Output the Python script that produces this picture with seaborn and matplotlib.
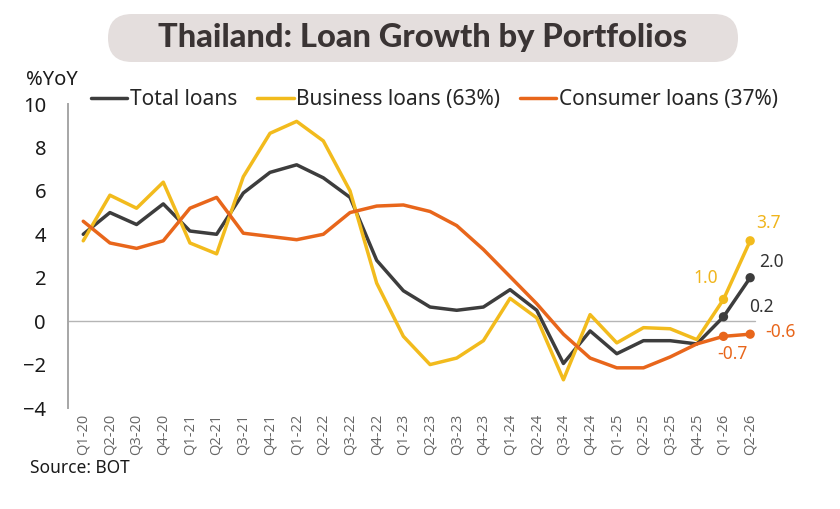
import pandas as pd
import seaborn as sns
import matplotlib.pyplot as plt
from matplotlib.patches import FancyBboxPatch

# Data (%YoY)
quarters = ['Q1-20', 'Q2-20', 'Q3-20', 'Q4-20', 'Q1-21', 'Q2-21', 'Q3-21', 'Q4-21',
            'Q1-22', 'Q2-22', 'Q3-22', 'Q4-22', 'Q1-23', 'Q2-23', 'Q3-23', 'Q4-23',
            'Q1-24', 'Q2-24', 'Q3-24', 'Q4-24', 'Q1-25', 'Q2-25', 'Q3-25', 'Q4-25',
            'Q1-26', 'Q2-26']
total = [4.0, 5.0, 4.45, 5.4, 4.15, 4.0, 5.9, 6.85, 7.2, 6.6, 5.7, 2.8, 1.4,
         0.65, 0.5, 0.65, 1.45, 0.5, -1.95, -0.45, -1.5, -0.9, -0.9, -1.05, 0.2, 2.0]
business = [3.7, 5.8, 5.2, 6.4, 3.6, 3.1, 6.65, 8.65, 9.2, 8.3, 6.0, 1.75, -0.7,
            -2.0, -1.7, -0.9, 1.05, 0.15, -2.7, 0.3, -1.0, -0.3, -0.35, -0.85, 1.0, 3.7]
consumer = [4.6, 3.6, 3.35, 3.7, 5.2, 5.7, 4.05, 3.9, 3.75, 4.0, 5.0, 5.3, 5.35,
            5.05, 4.4, 3.3, 2.05, 0.8, -0.6, -1.7, -2.15, -2.15, -1.65, -1.05, -0.7, -0.6]
series_names = ['Total loans', 'Business loans (63%)', 'Consumer loans (37%)']

colors = {'Total loans': '#3d3d3d',
          'Business loans (63%)': '#f2bb1d',
          'Consumer loans (37%)': '#e8661b'}

df = pd.DataFrame({'quarter': quarters, series_names[0]: total,
                   series_names[1]: business, series_names[2]: consumer})
long_df = df.melt(id_vars='quarter', var_name='series', value_name='value')
tail_df = long_df[long_df['quarter'].isin(quarters[-2:])]

sns.set_style('white')
plt.rcParams['font.family'] = ['Noto Sans', 'DejaVu Sans']

fig = plt.figure(figsize=(8.4, 5.09), dpi=100)
W, H = 840, 509
ax = fig.add_axes([68.3 / W, (H - 408) / H, 692 / W, 304 / H])

ax.axhline(0, color='#b5b5b5', lw=1.0, xmax=0.993, zorder=1)
sns.lineplot(data=long_df, x='quarter', y='value', hue='series', palette=colors,
             hue_order=series_names, linewidth=2.5, sort=False, ax=ax, zorder=3)
sns.scatterplot(data=tail_df, x='quarter', y='value', hue='series', palette=colors,
                hue_order=series_names, s=45, edgecolor='none', legend=False,
                ax=ax, zorder=4)

ax.set_xlim(-0.56, 25.38)
ax.set_ylim(-4, 10)
ax.set_yticks(range(-4, 11, 2))
ax.set_xlabel('')
ax.set_ylabel('')

for side in ['top', 'right', 'bottom']:
    ax.spines[side].set_visible(False)
ax.spines['left'].set_color('#a6a6a6')
ax.spines['left'].set_linewidth(1.4)
ax.tick_params(axis='y', length=5, width=1.2, color='#a6a6a6', labelsize=14.5,
               labelcolor='#1a1a1a', pad=11)
ax.tick_params(axis='x', length=0, pad=4)
for lbl in ax.get_xticklabels():
    lbl.set_rotation(90)
    lbl.set_fontsize(10.5)
    lbl.set_color('#666666')
    lbl.set_family(['Open Sans', 'DejaVu Sans'])
    lbl.set_va('top')

# end labels
offsets = {
    series_names[1]: [(-18, 21), (18, 18)],
    series_names[0]: [(38, 10), (21, 16)],
    series_names[2]: [(9, -18), (30, 2)],
}
label_colors = {series_names[0]: '#333333', series_names[1]: '#f0b51c',
                series_names[2]: '#e8661b'}
for name, vals in zip(series_names, [total, business, consumer]):
    for k, (dx, dy) in enumerate(offsets[name]):
        idx = len(quarters) - 2 + k
        ax.annotate(f'{vals[idx]:.1f}', xy=(quarters[idx], vals[idx]),
                    xytext=(dx, dy), textcoords='offset pixels',
                    ha='center', va='center', fontsize=12.5,
                    color=label_colors[name])

# legend
handles, labels = ax.get_legend_handles_labels()
ax.legend(handles, labels, loc='upper left', ncol=3, frameon=False,
          bbox_to_anchor=(91 / W, (H - 89) / H), bbox_transform=fig.transFigure,
          fontsize=15, handlelength=1.75, handletextpad=0.12, columnspacing=0.95,
          borderaxespad=0, borderpad=0)

# title pill
pill = FancyBboxPatch((108 / W, (H - 62) / H), 630 / W, 48 / H,
                      boxstyle='round,pad=0,rounding_size=%f' % (24 / W),
                      mutation_aspect=W / H, transform=fig.transFigure,
                      facecolor='#e4dedd', edgecolor='none')
fig.patches.append(pill)
fig.text(423 / W, (H - 38) / H, 'Thailand: Loan Growth by Portfolios',
         ha='center', va='center', fontsize=23.5, fontweight='black',
         family=['Lato', 'DejaVu Sans'], color='#3a3434')

fig.text(26 / W, (H - 80) / H, '%YoY', ha='left', va='center', fontsize=14.5,
         color='#1a1a1a')
fig.text(30 / W, (H - 468) / H, 'Source: BOT', ha='left', va='center',
         fontsize=12.5, color='#1a1a1a')

fig.savefig('out.png', dpi=100)
